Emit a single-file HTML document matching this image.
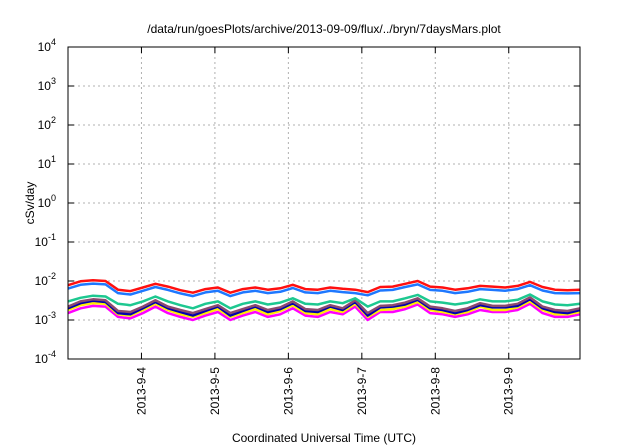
<!DOCTYPE html>
<html><head><meta charset="utf-8"><style>
html,body{margin:0;padding:0;background:#fff;width:640px;height:448px;overflow:hidden}
svg text{font-family:"Liberation Sans",sans-serif;}
</style></head><body>
<svg id="chart" width="640" height="448">
<text x="324" y="33" font-size="12" text-anchor="middle">/data/run/goesPlots/archive/2013-09-09/flux/../bryn/7daysMars.plot</text>
<text x="34" y="203" font-size="12" text-anchor="middle" transform="rotate(-90 34 203)">cSv/day</text>
<text x="324" y="442" font-size="12" text-anchor="middle">Coordinated Universal Time (UTC)</text>
<g id="grid"></g><g id="series"></g><g id="axes"></g>
</svg>
<script>
const xTickDays=[4,5,6,7,8,9];
const xTickLabels=["2013-9-4","2013-9-5","2013-9-6","2013-9-7","2013-9-8","2013-9-9"];
const yTickExps=[-4,-3,-2,-1,0,1,2,3,4];
const startDay=3.0, endDay=9.97;
const red=[0.0078,0.0098,0.0105,0.0100,0.0060,0.0055,0.0068,0.0085,0.0072,0.0058,0.0050,0.0062,0.0068,0.0050,0.0062,0.0068,0.0060,0.0065,0.0080,0.0062,0.0060,0.0068,0.0063,0.0060,0.0052,0.0070,0.0072,0.0085,0.0100,0.0072,0.0068,0.0060,0.0065,0.0075,0.0072,0.0068,0.0075,0.0095,0.0070,0.0060,0.0058,0.0060];
const blue=[0.0064,0.0080,0.0086,0.0082,0.0049,0.0045,0.0056,0.0070,0.0059,0.0048,0.0041,0.0051,0.0056,0.0041,0.0051,0.0056,0.0049,0.0053,0.0066,0.0051,0.0049,0.0056,0.0052,0.0049,0.0043,0.0057,0.0059,0.0070,0.0082,0.0059,0.0056,0.0049,0.0053,0.0062,0.0059,0.0056,0.0062,0.0078,0.0057,0.0049,0.0048,0.0049];
const green=[0.0030,0.0037,0.0042,0.0040,0.0026,0.0024,0.0030,0.0040,0.0030,0.0024,0.0020,0.0026,0.0030,0.0020,0.0026,0.0030,0.0025,0.0028,0.0036,0.0026,0.0025,0.0030,0.0027,0.0036,0.0022,0.0030,0.0030,0.0036,0.0044,0.0030,0.0028,0.0025,0.0028,0.0034,0.0030,0.0030,0.0033,0.0045,0.0030,0.0025,0.0024,0.0026];
const purple=[0.0022,0.0030,0.0034,0.0032,0.0017,0.0016,0.0022,0.0032,0.0022,0.0018,0.0015,0.0019,0.0024,0.0015,0.0019,0.0024,0.0018,0.0021,0.0030,0.0019,0.0018,0.0024,0.0020,0.0032,0.0015,0.0023,0.0024,0.0028,0.0036,0.0022,0.0020,0.0017,0.0020,0.0027,0.0023,0.0023,0.0026,0.0038,0.0022,0.0018,0.0017,0.0020];
const navy=[0.0020,0.0027,0.0031,0.0029,0.0015,0.0014,0.0020,0.0029,0.0020,0.0016,0.0013,0.0017,0.0022,0.0013,0.0017,0.0022,0.0016,0.0019,0.0027,0.0017,0.0016,0.0022,0.0018,0.0029,0.0013,0.0021,0.0022,0.0025,0.0033,0.0020,0.0018,0.0015,0.0018,0.0024,0.0021,0.0021,0.0023,0.0034,0.0020,0.0016,0.0015,0.0018];
const yellow=[0.0018,0.0024,0.0027,0.0026,0.0014,0.0013,0.0018,0.0026,0.0018,0.0014,0.0012,0.0015,0.0019,0.0012,0.0015,0.0019,0.0014,0.0017,0.0024,0.0015,0.0014,0.0019,0.0016,0.0026,0.0012,0.0018,0.0019,0.0022,0.0029,0.0018,0.0016,0.0014,0.0016,0.0022,0.0018,0.0018,0.0021,0.0030,0.0018,0.0014,0.0014,0.0016];
const magenta=[0.0015,0.0020,0.0023,0.0022,0.0012,0.0011,0.0015,0.0022,0.0015,0.0012,0.0010,0.0013,0.0016,0.0010,0.0013,0.0016,0.0012,0.0014,0.0020,0.0013,0.0012,0.0016,0.0014,0.0022,0.0010,0.0016,0.0016,0.0019,0.0025,0.0015,0.0014,0.0012,0.0014,0.0018,0.0016,0.0016,0.0018,0.0026,0.0015,0.0012,0.0012,0.0014];
const seriesList=[["magenta",magenta,"#ff00ff"],["yellow",yellow,"#ffee00"],["navy",navy,"#0000b0"],["purple",purple,"#8b4a6e"],["green",green,"#1dc890"],["blue",blue,"#1e78ff"],["red",red,"#ff1010"]];
const L=68,R=580,T=47,B=359;
const ns="http://www.w3.org/2000/svg";
function xs(d){return L+(d-startDay)/(endDay-startDay)*(R-L);}
function ys(v){return B-(Math.log10(v)+4)/8*(B-T);}
function mk(tag,attrs,parent){const e=document.createElementNS(ns,tag);for(const k in attrs)e.setAttribute(k,attrs[k]);parent.appendChild(e);return e;}
const grid=document.getElementById('grid'),axes=document.getElementById('axes'),ser=document.getElementById('series');
yTickExps.forEach(ex=>{
  const y=ys(Math.pow(10,ex));
  if(ex>-4&&ex<4){const g=mk('line',{x1:L,x2:R,y1:y,y2:y,stroke:'#b0b0b0','stroke-dasharray':'2,3'},grid);
  
  }
  const t1=mk('line',{x1:L,x2:L+6,y1:y,y2:y,stroke:'#000'},axes);
  
  
  mk('line',{x1:R-6,x2:R,y1:y,y2:y,stroke:'#000'},axes);
  const tx=mk('text',{x:L-12,y:y+4,'font-size':12,'text-anchor':'end'},axes);
  
  
  tx.innerHTML='10<tspan dy="-6" font-size="9">'+ex+'</tspan>';
});
xTickDays.forEach((d,i)=>{
  const x=xs(d);
  const g=mk('line',{x1:x,x2:x,y1:T,y2:B,stroke:'#b0b0b0','stroke-dasharray':'2,3'},grid);
  
  
  mk('line',{x1:x,x2:x,y1:B-6,y2:B,stroke:'#000'},axes);
  mk('line',{x1:x,x2:x,y1:T,y2:T+6,stroke:'#000'},axes);
  const tx=mk('text',{x:x+4,y:367,'font-size':12,'text-anchor':'end',transform:'rotate(-90 '+(x+4)+' 367)'},axes);
  
  
  tx.textContent=xTickLabels[i];
});
const fr=mk('rect',{x:L,y:T,width:R-L,height:B-T,fill:'none',stroke:'#000','stroke-width':1},axes);


seriesList.forEach(([name,vals,col])=>{
  const n=vals.length;
  const pts=vals.map((v,i)=>xs(startDay+i*(endDay-startDay)/(n-1)).toFixed(1)+','+ys(v).toFixed(1)).join(' ');
  const p=mk('polyline',{points:pts,fill:'none',stroke:col,'stroke-width':2.5,'stroke-linejoin':'round'},ser);
  
  
});
</script>
</body></html>
